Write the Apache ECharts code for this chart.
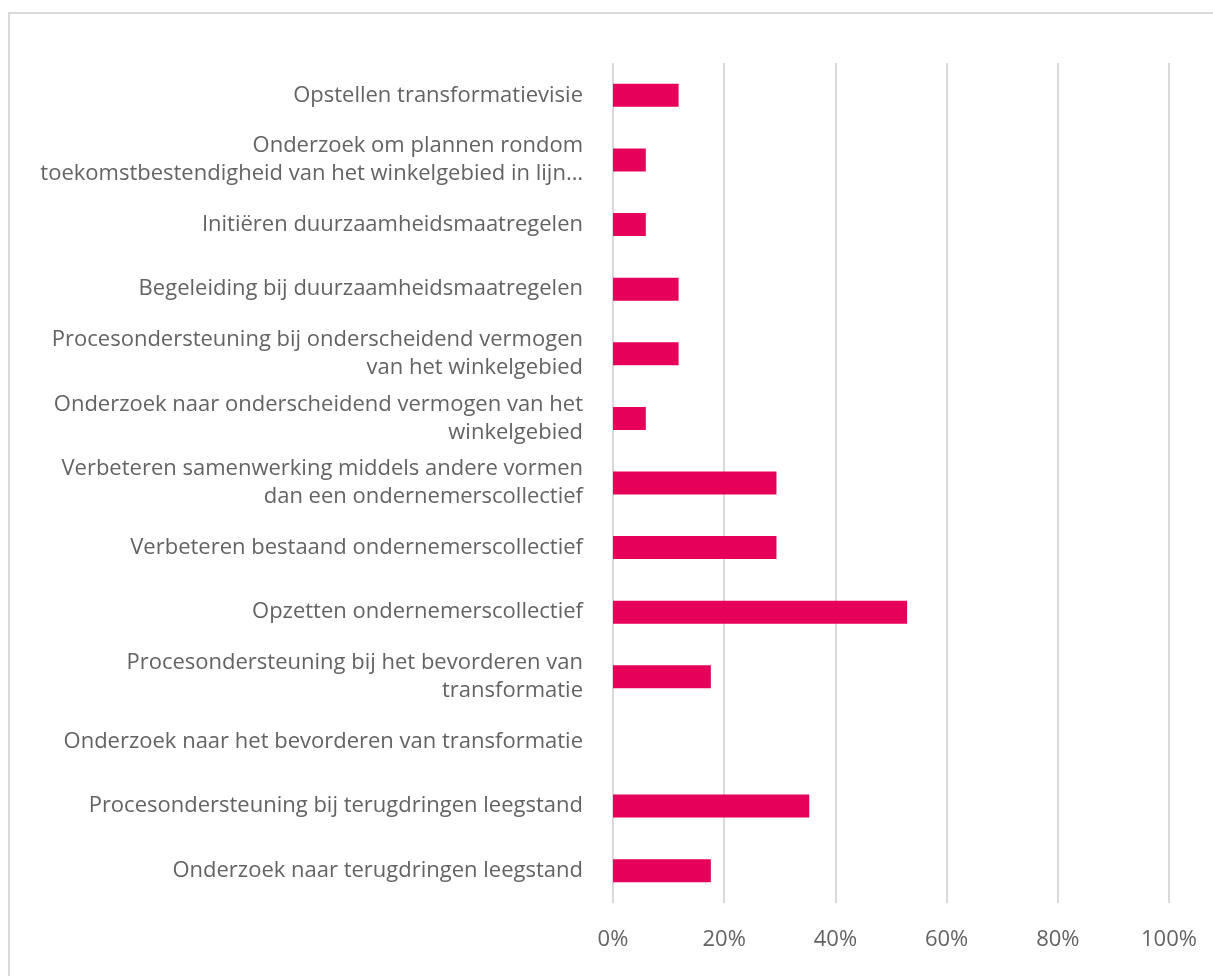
<!DOCTYPE html>
<html>
<head>
<meta charset="utf-8">
<script src="https://cdn.jsdelivr.net/npm/echarts@6/dist/echarts.min.js"></script>
<style>
  html, body { margin: 0; padding: 0; background: #fff; overflow: hidden; }
  #frame { position: absolute; left: 8px; top: 12px; width: 1220px; height: 1000px; border: 2px solid #d9d9d9; box-sizing: border-box; }
  #chart { position: absolute; left: 0; top: 0; width: 1213px; height: 976px; }
</style>
</head>
<body>
<div id="frame"></div>
<div id="chart"></div>
<script>
// categories, top to bottom
var categories = [
  'Opstellen transformatievisie',
  'Onderzoek om plannen rondom\ntoekomstbestendigheid van het winkelgebied in lijn…',
  'Initiëren duurzaamheidsmaatregelen',
  'Begeleiding bij duurzaamheidsmaatregelen',
  'Procesondersteuning bij onderscheidend vermogen\nvan het winkelgebied',
  'Onderzoek naar onderscheidend vermogen van het\nwinkelgebied',
  'Verbeteren samenwerking middels andere vormen\ndan een ondernemerscollectief',
  'Verbeteren bestaand ondernemerscollectief',
  'Opzetten ondernemerscollectief',
  'Procesondersteuning bij het bevorderen van\ntransformatie',
  'Onderzoek naar het bevorderen van transformatie',
  'Procesondersteuning bij terugdringen leegstand',
  'Onderzoek naar terugdringen leegstand'
];
// percentages
var values = [11.8, 5.9, 5.9, 11.8, 11.8, 5.9, 29.4, 29.4, 52.9, 17.6, 0, 35.3, 17.6];

var axisTicks = [0, 20, 40, 60, 80, 100];

var myChart = echarts.init(document.getElementById('chart'));
var option = {
  animation: false,
  textStyle: { fontFamily: 'Open Sans' },
  grid: { left: 613, right: 44, top: 63, bottom: 73 },
  xAxis: {
    type: 'value',
    min: axisTicks[0],
    max: axisTicks[axisTicks.length - 1],
    interval: 20,
    axisLine: { show: false },
    axisTick: { show: false },
    splitLine: { lineStyle: { color: '#d9d9d9', width: 2 } },
    axisLabel: { formatter: '{value}%', color: '#636363', fontSize: 22, margin: 26 }
  },
  yAxis: {
    type: 'category',
    inverse: true,
    data: categories,
    axisLine: { show: false },
    axisTick: { show: false },
    axisLabel: { color: '#636363', fontSize: 22, lineHeight: 28, align: 'right', margin: 30 }
  },
  series: [{
    type: 'bar',
    data: values,
    barWidth: 23,
    itemStyle: { color: '#e6005a' }
  }]
};
myChart.setOption(option);
</script>
</body>
</html>
